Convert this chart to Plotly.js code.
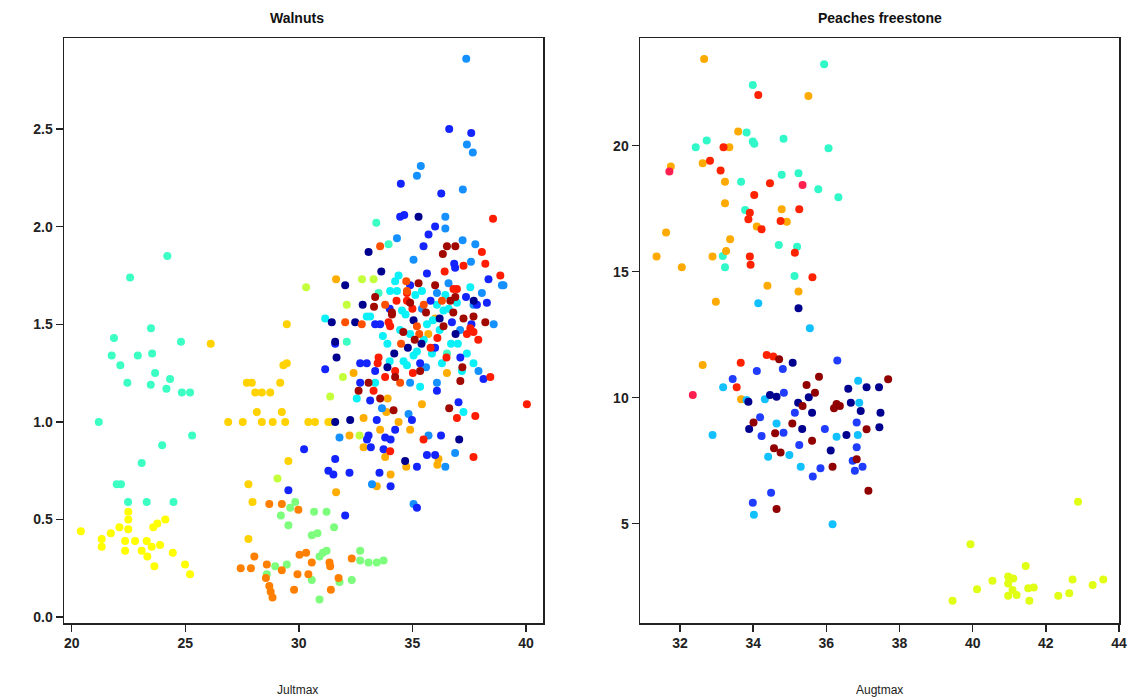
<!DOCTYPE html>
<html>
<head>
<meta charset="utf-8">
<script src="https://cdn.plot.ly/plotly-3.0.1.min.js"></script>
<style>html,body{margin:0;padding:0;background:#fff;}#chart{width:1142px;height:700px;}</style>
</head>
<body>
<div id="chart"></div>
<script>
// ---------------- Walnuts (x: Jultmax) ----------------
const walNavyX = [35.27,33.07,33.63,32.04,32.81,31.45,32.48,35.05,31.60,31.66,37.06,34.68,32.26,31.60,35.4,36.9,34.2,37.7,33.9,36.2,34.8];
const walNavyY = [2.05,1.87,1.77,1.70,1.60,1.51,1.51,1.52,1.41,1.33,0.91,0.80,1.01,1.00,1.40,1.45,1.35,1.62,1.28,1.53,1.38];
const walBlueX = [36.62,37.59,34.49,36.27,34.64,34.46,36.0,35.71,35.49,36.84,36.88,35.64,38.35,37.36,37.84,38.28,33.36,33.58,36.74,31.60,31.16,32.70,32.99,35.34,37.11,33.36,38.13,32.70,36.08,33.14,37.03,34.98,33.43,33.07,33.0,34.24,33.80,34.04,33.17,33.73,36.26,35.64,36.0,35.20,31.60,31.30,31.52,32.23,33.55,34.04,35.20,32.04,30.23,29.54,34.90,35.8,34.0,37.6,36.0];
const walBlueY = [2.50,2.48,2.22,2.17,2.06,2.05,2.00,1.96,1.90,1.81,1.79,1.76,1.73,1.64,1.60,1.61,1.50,1.50,1.51,1.40,1.27,1.30,1.30,1.30,1.33,1.26,1.22,1.20,1.16,1.11,1.10,1.01,1.01,0.93,0.91,0.96,0.92,0.91,0.87,0.86,0.93,0.83,0.83,0.77,0.81,0.75,0.73,0.74,0.74,0.67,0.56,0.52,0.86,0.65,1.70,1.62,1.58,1.50,1.38];
const walDodgerX = [37.37,37.40,37.66,35.37,35.20,37.22,36.45,36.45,34.32,37.21,37.77,35.05,37.58,39.01,36.59,38.06,35.42,38.58,37.91,34.90,36.08,33.66,34.83,31.79,35.71,36.45,36.88,33.22,35.05,36.08,37.69,38.94,37.1,35.6];
const walDodgerY = [2.86,2.42,2.38,2.31,2.26,2.19,2.05,1.99,1.94,1.93,1.91,1.83,1.82,1.70,1.71,1.66,1.58,1.50,1.26,1.20,1.20,1.07,1.04,0.92,0.93,0.77,0.84,0.68,0.58,1.66,1.60,1.70,1.47,1.28];
const walCyanX = [37.55,34.02,34.32,35.42,34.39,34.24,36.08,36.96,34.54,31.16,33.14,34.46,35.64,34.0,34.61,34.76,35.05,35.86,36.30,37.69,37.18,33.36,35.34,32.55,37.25,35.13,36.45,36.37,32.99,35.5,34.9,36.7,33.9,34.7,35.9,36.2,37.0,35.2,33.7,36.6,37.4];
const walCyanY = [1.69,1.67,1.67,1.67,1.75,1.72,1.60,1.61,1.57,1.53,1.54,1.47,1.50,1.31,1.31,1.29,1.34,1.35,1.30,1.30,1.26,1.20,1.18,1.12,1.05,1.65,1.65,1.57,1.54,1.42,1.45,1.40,1.40,1.55,1.52,1.47,1.40,1.36,1.44,1.58,1.35];
const walAquaX = [33.41,33.95,33.51,32.11,36.52,24.21,22.57,23.49,21.86,24.81,21.76,22.91,23.54,22.14,23.67,24.33,22.45,23.48,24.17,24.85,25.21,21.19,25.30,23.98,23.08,21.98,22.17,22.48,23.30,24.48];
const walAquaY = [2.02,1.91,1.66,1.41,1.35,1.85,1.74,1.48,1.43,1.41,1.34,1.34,1.35,1.29,1.25,1.22,1.20,1.19,1.17,1.15,1.15,1.00,0.93,0.88,0.79,0.68,0.68,0.59,0.59,0.59];
const walRedX = [38.55,38.06,37.25,38.21,36.42,38.87,36.96,34.02,33.95,37.55,37.69,33.51,33.47,34.24,35.02,33.80,38.43,33.29,36.96,37.77,40.04,34.02,35.49,37.69,34.76,34.76,36.81,37.4,35.8,35.0,36.1,37.9,34.3,36.5];
const walRedY = [2.04,1.87,1.80,1.81,1.77,1.75,1.68,1.49,1.51,1.48,1.46,1.33,1.30,1.26,1.25,1.23,1.23,1.16,1.02,1.03,1.09,0.85,0.91,0.82,1.66,1.62,1.68,1.45,1.38,1.58,1.43,1.42,1.62,1.33];
const walOrangeRedX = [33.58,34.73,34.76,32.04,32.77,35.20,34.46,35.3,34.5,35.5,33.8,36.3];
const walOrangeRedY = [1.90,1.72,1.67,1.51,1.50,1.49,1.20,1.45,1.40,1.60,1.60,1.62];
const walDarkRedX = [36.52,36.89,36.34,35.27,36.0,33.31,34.90,36.67,34.10,37.25,37.69,38.21,36.37,34.24,35.34,33.07,37.11,32.63,33.58,34.17,36.62,33.36,36.89,34.10,35.6,34.6,36.8,35.1,37.2];
const walDarkRedY = [1.90,1.90,1.86,1.71,1.70,1.59,1.61,1.62,1.56,1.53,1.54,1.51,1.49,1.23,1.26,1.20,1.21,1.16,1.12,1.06,1.07,1.64,1.64,1.55,1.56,1.46,1.56,1.42,1.28];
const walAmberX = [36.0,32.41,36.52,33.91,33.85,35.42,32.85,32.23,33.58,34.39,34.90,32.85,33.80,36.15,36.10,34.73,34.04,33.43,31.64,31.64,35.7];
const walAmberY = [1.53,1.25,1.25,1.12,1.05,1.09,1.02,0.93,0.96,1.00,0.96,0.87,0.82,0.81,0.78,0.77,0.73,0.67,0.64,1.73,1.45];
const walOrangeX = [28.70,29.25,29.98,28.04,27.44,27.89,28.59,29.25,30.03,30.32,30.57,31.35,31.38,29.94,30.42,28.70,28.76,28.84,29.79,31.41,31.75,32.33,28.55];
const walOrangeY = [0.58,0.58,0.55,0.31,0.25,0.25,0.27,0.24,0.32,0.33,0.28,0.28,0.26,0.22,0.22,0.16,0.13,0.10,0.14,0.14,0.20,0.30,0.20];
const walGreenX = [29.62,29.84,29.21,29.54,30.67,31.22,31.55,30.57,30.82,31.06,31.22,30.91,28.96,29.47,28.59,30.57,31.79,32.33,32.70,32.70,33.07,33.43,33.73,30.91];
const walGreenY = [0.56,0.59,0.52,0.47,0.54,0.54,0.46,0.42,0.43,0.33,0.34,0.31,0.26,0.27,0.22,0.19,0.18,0.19,0.34,0.29,0.28,0.28,0.29,0.09];
const walLimeX = [32.78,33.29,30.32,32.11,31.94,31.38,32.67,29.06];
const walLimeY = [1.73,1.73,1.69,1.60,1.23,1.13,0.93,0.71];
const walGoldX = [29.32,29.47,27.71,27.93,29.18,28.08,28.37,28.74,28.15,29.25,26.89,27.53,28.37,28.85,29.40,30.42,30.71,31.30,31.38,29.54,27.78,27.96,27.78,29.47,26.12];
const walGoldY = [1.29,1.30,1.20,1.20,1.20,1.15,1.15,1.15,1.05,1.05,1.00,1.00,1.00,1.00,1.00,1.00,1.00,1.00,1.00,0.80,0.68,0.59,0.40,1.50,1.40];
const walYellowX = [22.49,22.49,20.40,21.32,21.32,21.72,22.10,22.49,22.35,22.35,22.79,23.30,23.08,23.33,23.59,23.77,24.12,23.52,23.89,24.45,23.64,24.99,25.21];
const walYellowY = [0.54,0.50,0.44,0.40,0.36,0.43,0.46,0.45,0.39,0.34,0.39,0.39,0.34,0.31,0.46,0.48,0.50,0.36,0.37,0.33,0.26,0.27,0.22];

// ---------------- Peaches freestone (x: Augtmax) ----------------
const peaOrangeX = [32.66,35.51,33.59,33.35,32.62,31.75,33.23,33.23,34.78,34.92,34.10,31.62,33.37,33.26,31.36,32.89,32.05,34.39,35.24,32.98,32.62,33.67];
const peaOrangeY = [23.44,21.97,20.56,19.94,19.30,19.17,18.57,17.71,17.48,16.98,16.79,16.55,16.29,15.82,15.60,15.60,15.17,14.44,14.21,13.81,11.30,9.94];
const peaRedX = [34.14,33.19,32.82,33.11,34.46,34.03,33.91,33.87,35.26,34.75,34.23,35.14,33.91,33.93,35.62,33.66,34.37,34.55,33.55];
const peaRedY = [22.01,19.94,19.40,19.01,18.51,18.04,17.34,17.08,17.48,17.01,16.68,15.75,15.60,15.27,14.78,11.39,11.69,11.63,10.41];
const peaCrimsonX = [31.71,35.35,32.35];
const peaCrimsonY = [18.97,18.44,10.11];
const peaAquaX = [35.94,33.99,33.82,33.99,34.03,32.73,32.43,34.83,36.06,33.67,34.78,35.24,35.78,36.33,33.78,34.70,35.20,33.17,33.23,35.13];
const peaAquaY = [23.23,22.41,20.52,20.16,20.07,20.20,19.94,20.27,19.90,18.57,18.84,18.90,18.27,17.95,17.45,16.06,15.99,15.62,15.17,14.83];
const peaSkyX = [34.14,35.55,33.18,33.82,34.32,36.87,36.90,34.64,32.89,36.28,36.86,34.41,34.99,35.30,34.02,36.17];
const peaSkyY = [13.75,12.75,10.41,9.91,9.94,10.67,9.80,8.98,8.52,8.45,8.52,7.66,7.73,7.26,5.35,4.98];
const peaBlueX = [36.30,34.10,34.81,33.44,34.84,35.14,34.19,35.96,36.83,34.23,34.83,35.26,36.83,36.72,36.99,36.78,35.84,35.63,34.49,33.99];
const peaBlueY = [11.47,11.06,11.14,10.74,10.20,9.40,9.22,8.76,9.01,8.48,8.61,8.12,8.03,7.50,7.26,7.10,7.20,6.87,6.23,5.83];
const peaNavyX = [35.24,35.08,33.87,34.46,34.64,35.52,35.23,35.61,36.60,37.10,37.44,36.67,36.94,37.48,33.89,35.34,37.45,36.55,36.12];
const peaNavyY = [13.55,11.39,9.84,10.11,10.04,10.02,9.80,9.40,10.35,10.41,10.41,9.80,9.47,9.40,8.76,8.76,8.83,8.52,7.90];
const peaDarkRedX = [34.71,35.80,35.46,35.69,35.35,36.28,36.21,36.37,37.69,34.01,35.07,37.10,34.60,35.61,34.57,34.75,36.83,36.17,37.15,34.64];
const peaDarkRedY = [11.52,10.83,10.50,10.20,9.67,9.75,9.58,9.67,10.73,9.01,8.98,8.75,8.59,8.29,7.99,7.82,7.56,7.26,6.31,5.58];
const peaLimeX = [42.88,39.94,39.45,40.12,40.54,40.97,41.11,40.97,41.45,41.09,41.20,40.97,41.52,41.67,41.55,42.34,42.64,42.73,43.28,43.57];
const peaLimeY = [5.87,4.18,1.94,2.40,2.74,2.90,2.83,2.63,3.32,2.37,2.17,2.14,2.44,2.47,1.94,2.14,2.24,2.79,2.57,2.79];

// tick labels
const walXTicks = [20,25,30,35,40];
const walYTicks = [0,0.5,1,1.5,2,2.5];
const walYTickText = ['0.0','0.5','1.0','1.5','2.0','2.5'];
const peaXTicks = [32,34,36,38,40,42,44];
const peaYTicks = [5,10,15,20];

const walGroups = [
  [walLimeX,walLimeY,'#c4ff3c'],[walGreenX,walGreenY,'#7dff7d'],[walYellowX,walYellowY,'#ffff00'],
  [walGoldX,walGoldY,'#ffd200'],[walOrangeX,walOrangeY,'#ff8000'],[walAquaX,walAquaY,'#3cffc4'],
  [walAmberX,walAmberY,'#ffad00'],[walCyanX,walCyanY,'#0cf0f8'],[walDodgerX,walDodgerY,'#1590ff'],
  [walBlueX,walBlueY,'#1424ff'],[walNavyX,walNavyY,'#00008f'],[walRedX,walRedY,'#ff1c00'],
  [walOrangeRedX,walOrangeRedY,'#ff5000'],[walDarkRedX,walDarkRedY,'#a00800']
];
const peaGroups = [
  [peaLimeX,peaLimeY,'#e0ff14'],[peaAquaX,peaAquaY,'#30f8c8'],[peaOrangeX,peaOrangeY,'#ffaa00'],
  [peaRedX,peaRedY,'#ff2200'],[peaCrimsonX,peaCrimsonY,'#ff2050'],[peaSkyX,peaSkyY,'#10c0ff'],
  [peaBlueX,peaBlueY,'#1f3cff'],[peaNavyX,peaNavyY,'#00008f'],[peaDarkRedX,peaDarkRedY,'#900000']
];

const traces = [];
walGroups.forEach(g => traces.push({x:g[0], y:g[1], type:'scatter', mode:'markers', xaxis:'x', yaxis:'y',
  marker:{color:g[2], size:8, line:{width:0}}, showlegend:false, hoverinfo:'x+y'}));
peaGroups.forEach(g => traces.push({x:g[0], y:g[1], type:'scatter', mode:'markers', xaxis:'x2', yaxis:'y2',
  marker:{color:g[2], size:8, line:{width:0}}, showlegend:false, hoverinfo:'x+y'}));

const tickFont = {family:'Liberation Sans, Arial, sans-serif', size:14, color:'#222', weight:'bold'};
const axBase = {showline:true, mirror:true, linecolor:'#222', linewidth:1.5, ticks:'outside', ticklen:7,
  tickwidth:1.5, tickcolor:'#222', showgrid:false, zeroline:false, tickfont:tickFont, fixedrange:true};

const layout = {
  width:1142, height:700, margin:{l:0, r:0, t:0, b:0},
  paper_bgcolor:'#fff', plot_bgcolor:'#fff', showlegend:false,
  xaxis: Object.assign({}, axBase, {domain:[64/1142, 543/1142], range:[19.66,40.75], tickvals:walXTicks, anchor:'y'}),
  yaxis: Object.assign({}, axBase, {domain:[1-623/700, 1-38/700], range:[-0.03,2.966], tickvals:walYTicks, ticktext:walYTickText, anchor:'x'}),
  xaxis2: Object.assign({}, axBase, {domain:[640/1142, 1119/1142], range:[30.907,44.0], tickvals:peaXTicks, anchor:'y2'}),
  yaxis2: Object.assign({}, axBase, {domain:[1-623/700, 1-38/700], range:[1.06,24.27], tickvals:peaYTicks, anchor:'x2'}),
  annotations:[
    {text:'Walnuts', xref:'paper', yref:'paper', x:297/1142, y:1-18/700, showarrow:false, xanchor:'center', yanchor:'middle',
      font:{family:'Liberation Sans, Arial, sans-serif', size:14, color:'#111', weight:'bold'}},
    {text:'Peaches freestone', xref:'paper', yref:'paper', x:880/1142, y:1-18/700, showarrow:false, xanchor:'center', yanchor:'middle',
      font:{family:'Liberation Sans, Arial, sans-serif', size:14, color:'#111', weight:'bold'}},
    {text:'Jultmax', xref:'paper', yref:'paper', x:297/1142, y:1-690/700, showarrow:false, xanchor:'center', yanchor:'middle',
      font:{family:'Liberation Sans, Arial, sans-serif', size:12, color:'#222'}},
    {text:'Augtmax', xref:'paper', yref:'paper', x:880/1142, y:1-690/700, showarrow:false, xanchor:'center', yanchor:'middle',
      font:{family:'Liberation Sans, Arial, sans-serif', size:12, color:'#222'}}
  ]
};

Plotly.newPlot('chart', traces, layout, {displayModeBar:false, staticPlot:true});
</script>
</body>
</html>
